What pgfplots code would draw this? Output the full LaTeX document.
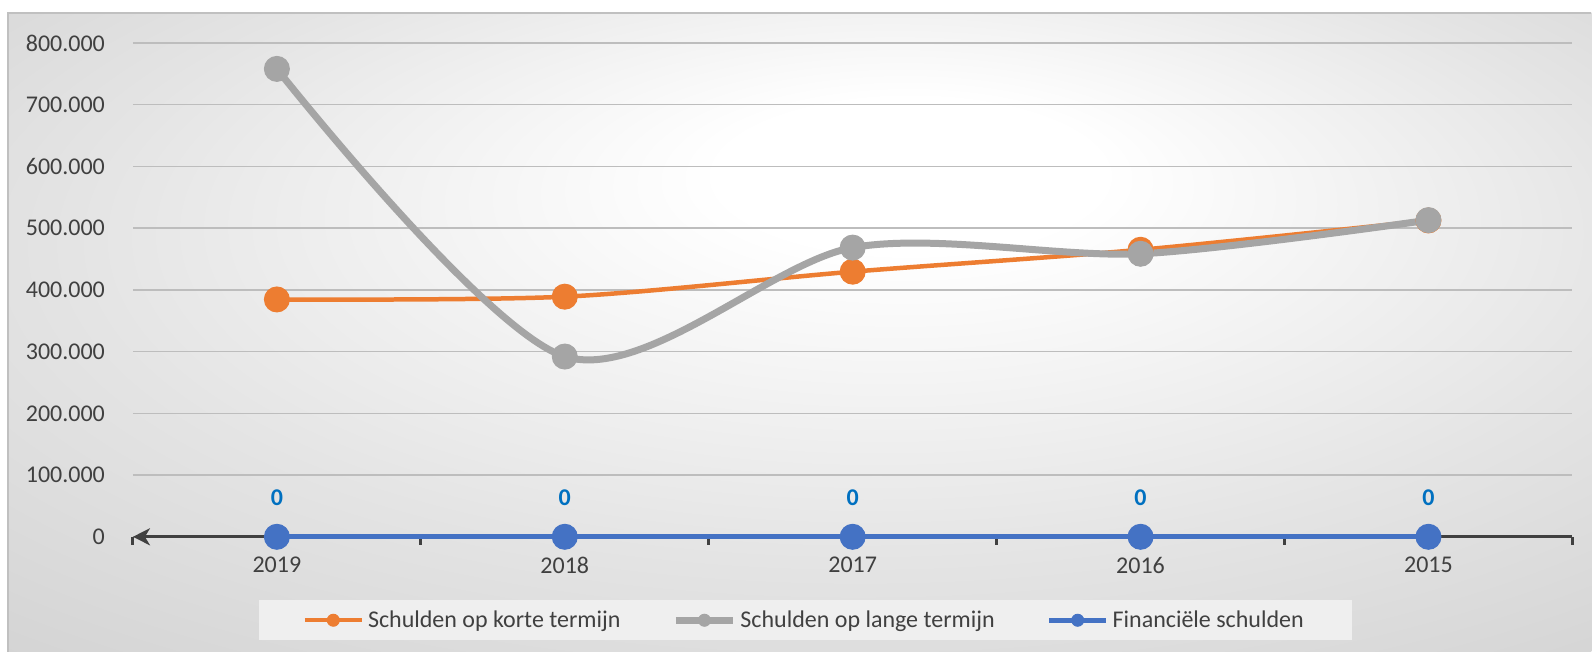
\documentclass[border=0pt]{standalone}
\usepackage{pgfplots}
\pgfplotsset{compat=1.18}
\usepackage{fontspec}
\setmainfont{Carlito}
\usetikzlibrary{arrows.meta}
\definecolor{orangeS}{HTML}{ED7D31}
\definecolor{greyS}{HTML}{A5A5A5}
\definecolor{blueS}{HTML}{4472C4}
\definecolor{lblblue}{HTML}{0070C0}
\definecolor{txt}{HTML}{404040}
\definecolor{axcol}{HTML}{404040}
\definecolor{gridc}{HTML}{BDBDBD}
\definecolor{legbg}{HTML}{EFEFEF}
\definecolor{bgA}{HTML}{E4E4E4}
\definecolor{bgB}{HTML}{D0D0D0}
\definecolor{bgC}{HTML}{C2C2C2}
\definecolor{borderc}{HTML}{C0C0C0}
\pgfdeclareradialshading{chartbg}{\pgfpoint{4bp}{14bp}}{color(0bp)=(white); color(6bp)=(white); color(25bp)=(bgA); color(42bp)=(bgB); color(50bp)=(bgC)}
\begin{document}
\begin{tikzpicture}
\path[fill=white] (0pt,0pt) rectangle (796pt,326pt);
\shade[shading=chartbg] (4pt,0pt) rectangle (796pt,319.5pt);
\draw[borderc, line width=0.6pt] (4pt,0pt) -- (4pt,319.5pt) -- (796pt,319.5pt);
\begin{axis}[
  at={(66.5pt,57.5pt)}, anchor=south west,
  scale only axis, width=720pt, height=247pt,
  xmin=-0.5, xmax=4.5, ymin=0, ymax=800000,
  xtick={0,1,2,3,4}, xticklabels={2019,2018,2017,2016,2015},
  minor xtick={-0.5,0.5,1.5,2.5,3.5,4.5},
  ytick={0,100000,200000,300000,400000,500000,600000,700000,800000},
  scaled y ticks=false,
  /pgf/number format/fixed,
  /pgf/number format/1000 sep={.},
  /pgf/number format/assume math mode=true,
  axis x line*=bottom, axis y line*=left,
  y axis line style={draw=none},
  x axis line style={{Stealth[length=8.5pt,width=8.5pt,inset=2.5pt]}-, axcol, line width=1.5pt},
  tick align=outside,
  major tick length=0pt,
  minor tick length=4pt,
  minor tick style={axcol, line width=1.5pt},
  ymajorgrids, major grid style={gridc, line width=0.75pt},
  tick label style={font=\fontsize{12}{14}\selectfont, text=txt},
  xticklabel style={yshift=-6.5pt},
  yticklabel style={xshift=-10.5pt},
  clip=false,
  legend columns=3,
  legend image code/.code={\draw[mark repeat=2,mark phase=2,#1,mark size=3pt] plot coordinates {(0pt,0pt) (14.25pt,0pt) (28.5pt,0pt)};},
  legend style={
    at={(0.467,-0.169)}, anchor=center,
    draw=none, fill=legbg,
    inner xsep=22pt, inner ysep=3pt,
    font=\fontsize{12}{14}\selectfont, text=txt,
    /tikz/every even column/.append style={column sep=24pt}
  },
]
\addplot[orangeS, line width=2.25pt, smooth, mark=*, mark size=6.25pt, mark options={line width=0.5pt, fill=orangeS}]
  coordinates {(0,384500) (1,389000) (2,429500) (3,465000) (4,512500)};
\addlegendentry{Schulden op korte termijn}
\addplot[greyS, line width=3.5pt, smooth, mark=*, mark size=6.25pt, mark options={line width=0.5pt, fill=greyS}]
  coordinates {(0,758000) (1,292000) (2,468500) (3,458500) (4,513000)};
\addlegendentry{Schulden op lange termijn}
\addplot[blueS, line width=2.5pt, mark=*, mark size=6.25pt, mark options={line width=0.5pt, fill=blueS},
  nodes near coords={\textbf{0}},
  every node near coord/.append style={text=lblblue, anchor=center, yshift=19.5pt, font=\fontsize{12}{14}\selectfont\bfseries}]
  coordinates {(0,0) (1,0) (2,0) (3,0) (4,0)};
\addlegendentry{Financiële schulden}
\end{axis}
\end{tikzpicture}
\end{document}
